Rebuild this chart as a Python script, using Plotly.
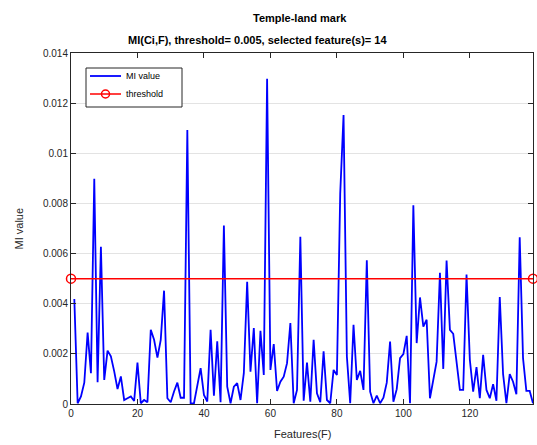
import plotly.graph_objects as go

features = list(range(1, 140))
mi_milli = [
    4.19, 0.03, 0.30, 0.85, 2.85, 1.23, 8.98, 0.87, 6.27, 0.96,
    2.13, 1.90, 1.30, 0.60, 1.10, 0.16, 0.23, 0.30, 0.12, 1.65,
    0.03, 0.16, 0.07, 2.96, 2.56, 1.85, 2.56, 4.52, 0.23, 0.07,
    0.50, 0.85, 0.25, 0.25, 10.93, 0.00, 0.03, 0.70, 1.43, 0.36,
    0.10, 2.96, 0.33, 2.50, 0.07, 7.12, 0.69, 0.03, 0.69, 0.83,
    0.16, 1.23, 4.87, 1.29, 3.03, 0.03, 2.92, 1.16, 12.97, 1.36,
    2.39, 0.52, 0.89, 1.09, 1.63, 3.23, 0.03, 0.56, 6.67, 0.13,
    1.65, 0.09, 2.56, 0.43, 0.07, 2.10, 0.16, 0.03, 1.36, 1.16,
    8.40, 11.53, 1.90, 0.03, 3.16, 0.96, 1.32, 0.56, 5.73, 0.49,
    0.03, 0.33, 0.03, 0.25, 0.85, 2.49, 0.09, 0.59, 1.83, 1.99,
    2.72, 0.03, 7.93, 2.43, 4.25, 3.09, 3.36, 0.23, 0.96, 1.69,
    5.23, 1.40, 5.72, 2.96, 2.80, 1.69, 0.56, 0.56, 5.16, 1.76,
    0.49, 1.47, 0.23, 1.96, 0.56, 0.23, 0.79, 0.13, 4.27, 1.19,
    0.03, 1.19, 0.89, 0.39, 6.65, 1.83, 0.52, 0.52, 0.03,
]
mi_values = [v / 1000.0 for v in mi_milli]

threshold_x = [0, 139]
threshold_y = [0.005, 0.005]

y_tickvals = [0, 0.002, 0.004, 0.006, 0.008, 0.010, 0.012, 0.014]
y_ticktext = ["0", "0.002", "0.004", "0.006", "0.008", "0.01", "0.012", "0.014"]
x_tickvals = [0, 20, 40, 60, 80, 100, 120]
x_ticktext = ["0", "20", "40", "60", "80", "100", "120"]

legend_names = ["MI value", "threshold"]
title_main = "Temple-land mark"
title_sub = "MI(Ci,F), threshold= 0.005, selected feature(s)= 14"

FONT = "Arial, 'Liberation Sans', Helvetica, sans-serif"
AX = "#262626"
BLUE = "#0000ff"
RED = "#ff0000"

# plot-area geometry (pixels) used for paper-coordinate conversion
L, R, T, B = 71, 4, 53, 41
W, H = 537, 445
PW, PH = W - L - R, H - T - B


def px(xp):
    return (xp - L) / PW


def py(yp):
    return (H - B - yp) / PH


fig = go.Figure()
fig.add_trace(go.Scatter(
    x=features, y=mi_values, mode="lines", name=legend_names[0],
    line=dict(color=BLUE, width=1.8), showlegend=False,
))
fig.add_trace(go.Scatter(
    x=threshold_x, y=threshold_y, mode="lines+markers", name=legend_names[1],
    line=dict(color=RED, width=1.5),
    marker=dict(symbol="circle-open", size=9, color=RED, line=dict(width=1.5)),
    cliponaxis=False, showlegend=False,
))

# legend box drawn manually to match compact MATLAB legend
shapes = [
    dict(type="rect", xref="paper", yref="paper",
         x0=px(86), x1=px(182), y0=py(107), y1=py(68),
         line=dict(color=AX, width=1), fillcolor="white", layer="above"),
    dict(type="line", xref="paper", yref="paper",
         x0=px(90), x1=px(121), y0=py(76), y1=py(76),
         line=dict(color=BLUE, width=1.8), layer="above"),
    dict(type="line", xref="paper", yref="paper",
         x0=px(90), x1=px(121), y0=py(94), y1=py(94),
         line=dict(color=RED, width=1.5), layer="above"),
    dict(type="circle", xref="paper", yref="paper",
         x0=px(101.5), x1=px(109.5), y0=py(98), y1=py(90),
         line=dict(color=RED, width=1.5), fillcolor="rgba(0,0,0,0)", layer="above"),
]

annotations = [
    dict(text="<b>" + title_main + "</b>", xref="paper", yref="paper",
         x=px(300), y=py(18), xanchor="center", yanchor="middle",
         showarrow=False, font=dict(size=11, color="#000000")),
    dict(text="<b>" + title_sub + "</b>", xref="paper", yref="paper",
         x=px(257), y=py(40), xanchor="center", yanchor="middle",
         showarrow=False, font=dict(size=11, color="#000000")),
    dict(text="Features(F)", xref="paper", yref="paper",
         x=0.5, y=py(434), xanchor="center", yanchor="middle",
         showarrow=False, font=dict(size=11, color=AX)),
    dict(text="MI value", xref="paper", yref="paper",
         x=px(18), y=0.5, xanchor="center", yanchor="middle",
         textangle=-90, showarrow=False, font=dict(size=11, color=AX)),
    dict(text=legend_names[0], xref="paper", yref="paper",
         x=px(124), y=py(76), xanchor="left", yanchor="middle",
         showarrow=False, font=dict(size=9, color="#000000")),
    dict(text=legend_names[1], xref="paper", yref="paper",
         x=px(124), y=py(94), xanchor="left", yanchor="middle",
         showarrow=False, font=dict(size=9, color="#000000")),
]

fig.update_layout(
    width=W, height=H,
    margin=dict(l=L, r=R, t=T, b=B),
    paper_bgcolor="white", plot_bgcolor="white",
    font=dict(family=FONT, size=10, color=AX),
    showlegend=False,
    xaxis=dict(
        range=[0, 139], tickvals=x_tickvals, ticktext=x_ticktext,
        showline=True, mirror="ticks", linecolor=AX, linewidth=1,
        ticks="inside", ticklen=5, tickcolor=AX,
        showgrid=False, zeroline=False,
        tickfont=dict(size=10, color=AX),
    ),
    yaxis=dict(
        range=[0, 0.014], tickvals=y_tickvals, ticktext=y_ticktext,
        showline=True, mirror="ticks", linecolor=AX, linewidth=1,
        ticks="inside", ticklen=5, tickcolor=AX,
        showgrid=True, gridcolor="#e3e3e3", gridwidth=1, zeroline=False,
        tickfont=dict(size=10, color=AX),
    ),
    shapes=shapes,
    annotations=annotations,
)

fig.write_html("out.html")
